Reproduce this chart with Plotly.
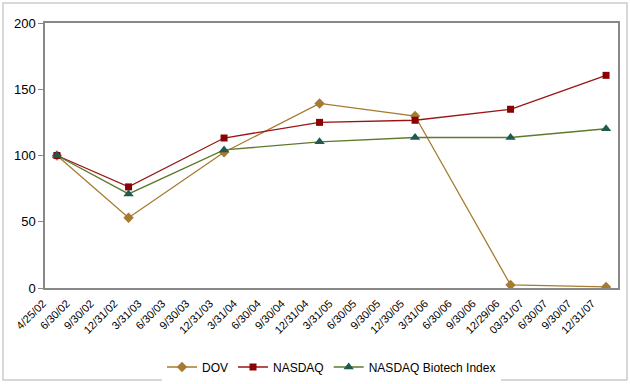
import plotly.graph_objects as go

categories = ["4/25/02", "6/30/02", "9/30/02", "12/31/02", "3/31/03", "6/30/03", "9/30/03",
              "12/31/03", "3/31/04", "6/30/04", "9/30/04", "12/31/04", "3/31/05", "6/30/05",
              "9/30/05", "12/30/05", "3/31/06", "6/30/06", "9/30/06", "12/29/06", "03/31/07",
              "6/30/07", "9/30/07", "12/31/07"]
point_dates = ["4/25/02", "12/31/02", "12/31/03", "12/31/04", "12/30/05", "12/29/06", "12/31/07"]
dov = [100, 53, 102.5, 139.3, 129.8, 2.3, 0.8]
nasdaq = [100, 76.3, 113.2, 125.0, 126.6, 134.9, 160.5]
biotech = [100, 71.0, 104.2, 110.3, 113.6, 113.6, 120.2]

fig = go.Figure()
fig.add_trace(go.Scatter(x=point_dates, y=dov, name="DOV", mode="lines+markers",
                         line=dict(color="#A67A30", width=1.3),
                         marker=dict(symbol="diamond", size=8, color="#A67A30")))
fig.add_trace(go.Scatter(x=point_dates, y=nasdaq, name="NASDAQ", mode="lines+markers",
                         line=dict(color="#9A1414", width=1.3),
                         marker=dict(symbol="square", size=7, color="#8B0000")))
fig.add_trace(go.Scatter(x=point_dates, y=biotech, name="NASDAQ Biotech Index", mode="lines+markers",
                         line=dict(color="#5E7A2C", width=1.3),
                         marker=dict(symbol="triangle-up", size=9, color="#1E5A52")))

ml, mr, mt, mb = 45, 12, 23, 96
pw, ph = 630 - ml - mr, 384 - mt - mb

fig.update_layout(
    width=630, height=384,
    margin=dict(l=ml, r=mr, t=mt, b=mb, autoexpand=False),
    paper_bgcolor="white", plot_bgcolor="white",
    font=dict(family="Liberation Sans, Arial, sans-serif", size=12, color="black"),
    showlegend=True,
    legend=dict(orientation="h", x=0.5, xanchor="center", y=(288 - 367) / ph, yanchor="middle",
                font=dict(size=12), traceorder="normal"),
    xaxis=dict(type="category", categoryorder="array", categoryarray=categories,
               range=[-0.5, len(categories) - 0.5], tickangle=-45, showgrid=False,
               showline=True, linecolor="#888888", linewidth=1.5, mirror=True,
               ticks="", tickfont=dict(size=11), automargin=False,
               ticklabelshift=-14, ticklabelstandoff=3),
    yaxis=dict(range=[0, 200], tickvals=[0, 50, 100, 150, 200], showgrid=False,
               showline=True, linecolor="#888888", linewidth=1.5, mirror=True,
               ticks="outside", ticklen=5, tickcolor="#888888", zeroline=False,
               tickfont=dict(size=13), automargin=False),
    shapes=[dict(type="rect", xref="paper", yref="paper",
                 x0=(3 - ml) / pw, x1=(627 - ml) / pw,
                 y0=(288 - 380) / ph, y1=(288 - 3) / ph,
                 line=dict(color="#cccccc", width=1.5), layer="below")],
)

fig.write_html("out.html", config={"displayModeBar": False},
               post_script="document.body.style.margin='0';")
